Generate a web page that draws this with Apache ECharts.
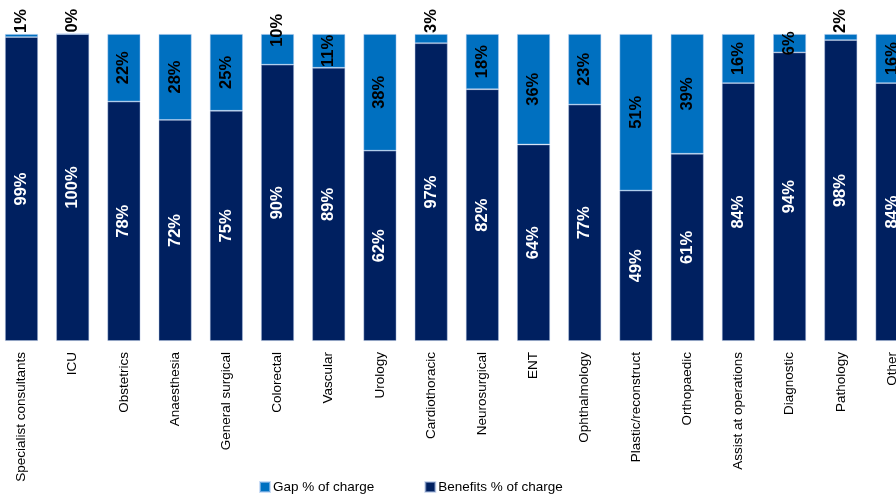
<!DOCTYPE html>
<html>
<head>
<meta charset="utf-8">
<script src="https://cdn.jsdelivr.net/npm/echarts@6/dist/echarts.min.js"></script>
<style>
  html, body { margin: 0; padding: 0; background: #ffffff; }
  #chart { width: 896px; height: 498px; }
</style>
</head>
<body>
<div id="chart"></div>
<script>
// Share of the charge covered by benefits vs. the out-of-pocket gap, by service type
const categories = [
  'Specialist consultants', 'ICU', 'Obstetrics', 'Anaesthesia', 'General surgical',
  'Colorectal', 'Vascular', 'Urology', 'Cardiothoracic', 'Neurosurgical', 'ENT',
  'Ophthalmology', 'Plastic/reconstruct', 'Orthopaedic', 'Assist at operations',
  'Diagnostic', 'Pathology', 'Other'
];
const benefitsPct = [99, 100, 78, 72, 75, 90, 89, 62, 97, 82, 64, 77, 49, 61, 84, 94, 98, 84];
const gapPct      = [1, 0, 22, 28, 25, 10, 11, 38, 3, 18, 36, 23, 51, 39, 16, 6, 2, 16];

const GAP_COLOR = '#0070C0';
const BEN_COLOR = '#002060';
const textFont = '"Liberation Sans", Arial, sans-serif';

// Use a narrow bold face for the value labels when one is installed.
function fontInstalled(name) {
  const ctx = document.createElement('canvas').getContext('2d');
  const sample = '100% mmmWWW';
  ctx.font = 'bold 40px monospace';
  const base = ctx.measureText(sample).width;
  ctx.font = 'bold 40px "' + name + '", monospace';
  return ctx.measureText(sample).width !== base;
}
let valueFont = textFont;
let valueSize = 16.5;
if (fontInstalled('Liberation Sans Narrow')) {
  valueFont = '"Liberation Sans Narrow", ' + textFont;
  valueSize = 19;
}

// Small gap segments get their label just above the bar; the rest sit inside.
function gapLabel(v) {
  if (v <= 3) {
    return { position: 'top', distance: 1, align: 'left', verticalAlign: 'middle' };
  }
  if (v === 10) {
    // offset is expressed in the rotated label frame: +x runs upward
    return { position: 'inside', offset: [19, 0] };
  }
  return { position: 'inside' };
}

const chart = echarts.init(document.getElementById('chart'), null, { renderer: 'canvas' });

chart.setOption({
  animation: false,
  backgroundColor: '#ffffff',
  grid: {
    left: -4.1, right: -21.6, top: 34, bottom: 157,
    outerBoundsMode: 'none', containLabel: false
  },
  legend: {
    data: ['Gap % of charge', 'Benefits % of charge'],
    left: 259, top: 480, padding: 0,
    itemWidth: 10, itemHeight: 10, itemGap: 50,
    icon: 'rect',
    textStyle: { fontFamily: textFont, fontSize: 13.5, color: '#000', padding: [0, 0, 0, -2] }
  },
  xAxis: {
    type: 'category',
    data: categories,
    axisLine: { show: false },
    axisTick: { show: false },
    axisLabel: {
      interval: 0, rotate: 90, margin: 11,
      fontFamily: textFont, fontSize: 13.5, color: '#000'
    }
  },
  yAxis: {
    type: 'value', min: 0, max: 100, show: false,
    splitLine: { show: false }
  },
  series: [
    {
      name: 'Benefits % of charge',
      type: 'bar', stack: 'total', barWidth: 33,
      data: benefitsPct,
      itemStyle: { color: BEN_COLOR, borderColor: 'rgba(170,190,225,0.55)', borderWidth: 0.8 },
      label: {
        show: true, position: 'inside', rotate: 90,
        formatter: '{c}%', color: '#ffffff',
        fontFamily: valueFont, fontWeight: 'bold', fontSize: valueSize
      }
    },
    {
      name: 'Gap % of charge',
      type: 'bar', stack: 'total', barWidth: 33,
      data: gapPct.map(v => ({ value: v, label: gapLabel(v) })),
      itemStyle: { color: GAP_COLOR, borderColor: 'rgba(170,200,240,0.6)', borderWidth: 0.8 },
      label: {
        show: true, rotate: 90,
        formatter: '{c}%', color: '#000000',
        fontFamily: valueFont, fontWeight: 'bold', fontSize: valueSize
      }
    }
  ]
});
</script>
</body>
</html>
